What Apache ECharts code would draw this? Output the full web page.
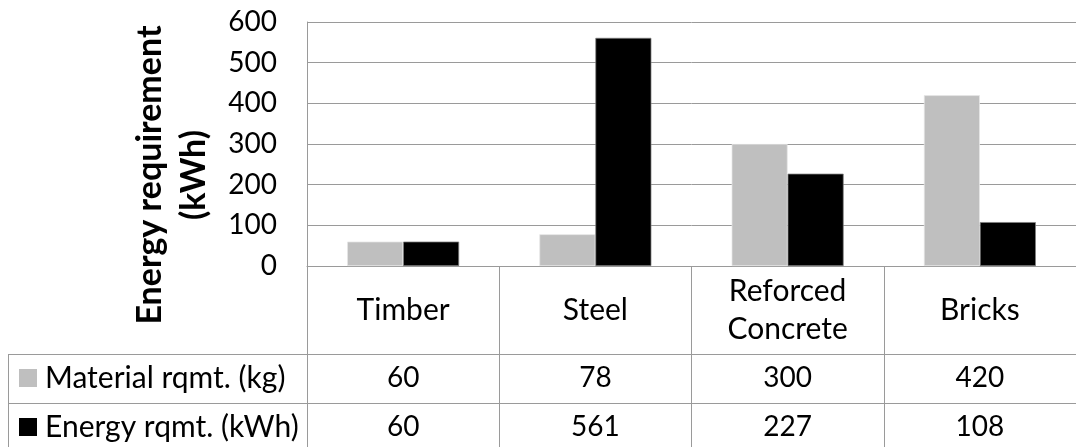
<!DOCTYPE html>
<html>
<head>
<meta charset="utf-8">
<script src="https://cdn.jsdelivr.net/npm/echarts@6/dist/echarts.min.js"></script>
<style>
  html, body { margin: 0; padding: 0; background: #fff; }
  #chart { width: 1076px; height: 447px; }
</style>
</head>
<body>
<div id="chart"></div>
<script>
// Building materials: material needed vs. embodied energy
const categories = ['Timber', 'Steel', 'Reforced\nConcrete', 'Bricks'];
const seriesNames = ['Material rqmt. (kg)', 'Energy rqmt. (kWh)'];
const materialKg = [60, 78, 300, 420];
const energyKWh = [60, 561, 227, 108];
const yTicks = [0, 100, 200, 300, 400, 500, 600];
const yTitle = 'Energy requirement\n(kWh)';

const FONT = 'Lato';
const GRID_COLOR = '#9a9a9a';
const seriesColors = ['#bfbfbf', '#000000'];

const chart = echarts.init(document.getElementById('chart'), null, { renderer: 'canvas' });

// Hidden helper axes carry the data-table rows under each category.
function tableRowAxis(values, margin) {
  return {
    type: 'category',
    data: categories,
    position: 'bottom',
    gridIndex: 0,
    axisLine: { show: false },
    axisTick: { show: false },
    splitLine: { show: false },
    axisLabel: {
      interval: 0,
      margin: margin,
      verticalAlign: 'middle',
      fontFamily: FONT,
      fontSize: 28,
      color: '#000'
    ,
      formatter: (v, i) => String(values[i])
    }
  };
}

const option = {
  animation: false,
  backgroundColor: '#fff',
  grid: { left: 307, top: 22, right: -11, height: 244, containLabel: false },
  xAxis: [
    {
      type: 'category',
      data: categories,
      position: 'bottom',
      axisLine: { show: true, lineStyle: { color: GRID_COLOR, width: 1 } },
      axisTick: { show: true, inside: false, length: 181, lineStyle: { color: GRID_COLOR, width: 1 } },
      axisLabel: {
        interval: 0,
        margin: 44,
        verticalAlign: 'middle',
        fontFamily: FONT,
        fontSize: 30,
        lineHeight: 38,
        color: '#000'
      },
      splitLine: { show: false }
    },
    tableRowAxis(materialKg, 112),
    tableRowAxis(energyKWh, 161)
  ],
  yAxis: {
    type: 'value',
    min: yTicks[0],
    max: yTicks[yTicks.length - 1],
    interval: yTicks[1] - yTicks[0],
    axisLine: { show: true, lineStyle: { color: GRID_COLOR, width: 1 } },
    axisTick: { show: false },
    splitLine: { show: true, lineStyle: { color: GRID_COLOR, width: 1 } },
    axisLabel: { margin: 30, fontFamily: FONT, fontSize: 28, color: '#000' }
  },
  series: [
    {
      name: seriesNames[0],
      type: 'bar',
      data: materialKg,
      barWidth: 56,
      barGap: '0%',
      itemStyle: { color: seriesColors[0], borderColor: '#e6e6e6', borderWidth: 0.75 }
    },
    {
      name: seriesNames[1],
      type: 'bar',
      data: energyKWh,
      barWidth: 56,
      barGap: '0%',
      itemStyle: { color: seriesColors[1], borderColor: '#7f7f7f', borderWidth: 0.75 }
    }
  ],
  graphic: [
    // data table row rules and left border
    { type: 'line', shape: { x1: 8, y1: 354.5, x2: 1076, y2: 354.5 }, style: { stroke: GRID_COLOR, lineWidth: 1 } },
    { type: 'line', shape: { x1: 8, y1: 403.5, x2: 1076, y2: 403.5 }, style: { stroke: GRID_COLOR, lineWidth: 1 } },
    { type: 'line', shape: { x1: 8.5, y1: 354, x2: 8.5, y2: 447 }, style: { stroke: GRID_COLOR, lineWidth: 1 } },
    // legend keys inside the table
    { type: 'rect', shape: { x: 19, y: 369, width: 18, height: 18 }, style: { fill: seriesColors[0] } },
    { type: 'rect', shape: { x: 19, y: 418, width: 18, height: 18 }, style: { fill: seriesColors[1] } },
    {
      type: 'text', x: 45, y: 378,
      style: { text: seriesNames[0], font: '30px ' + FONT, fill: '#000', textAlign: 'left', textVerticalAlign: 'middle' }
    },
    {
      type: 'text', x: 45, y: 427,
      style: { text: seriesNames[1], font: '30px ' + FONT, fill: '#000', textAlign: 'left', textVerticalAlign: 'middle' }
    },
    // y-axis title
    {
      type: 'text', x: 172, y: 175, rotation: Math.PI / 2,
      style: {
        text: yTitle, font: 'bold 34px ' + FONT, fill: '#000',
        textAlign: 'center', textVerticalAlign: 'middle', lineHeight: 44
      }
    }
  ]
};

chart.setOption(option);
</script>
</body>
</html>
